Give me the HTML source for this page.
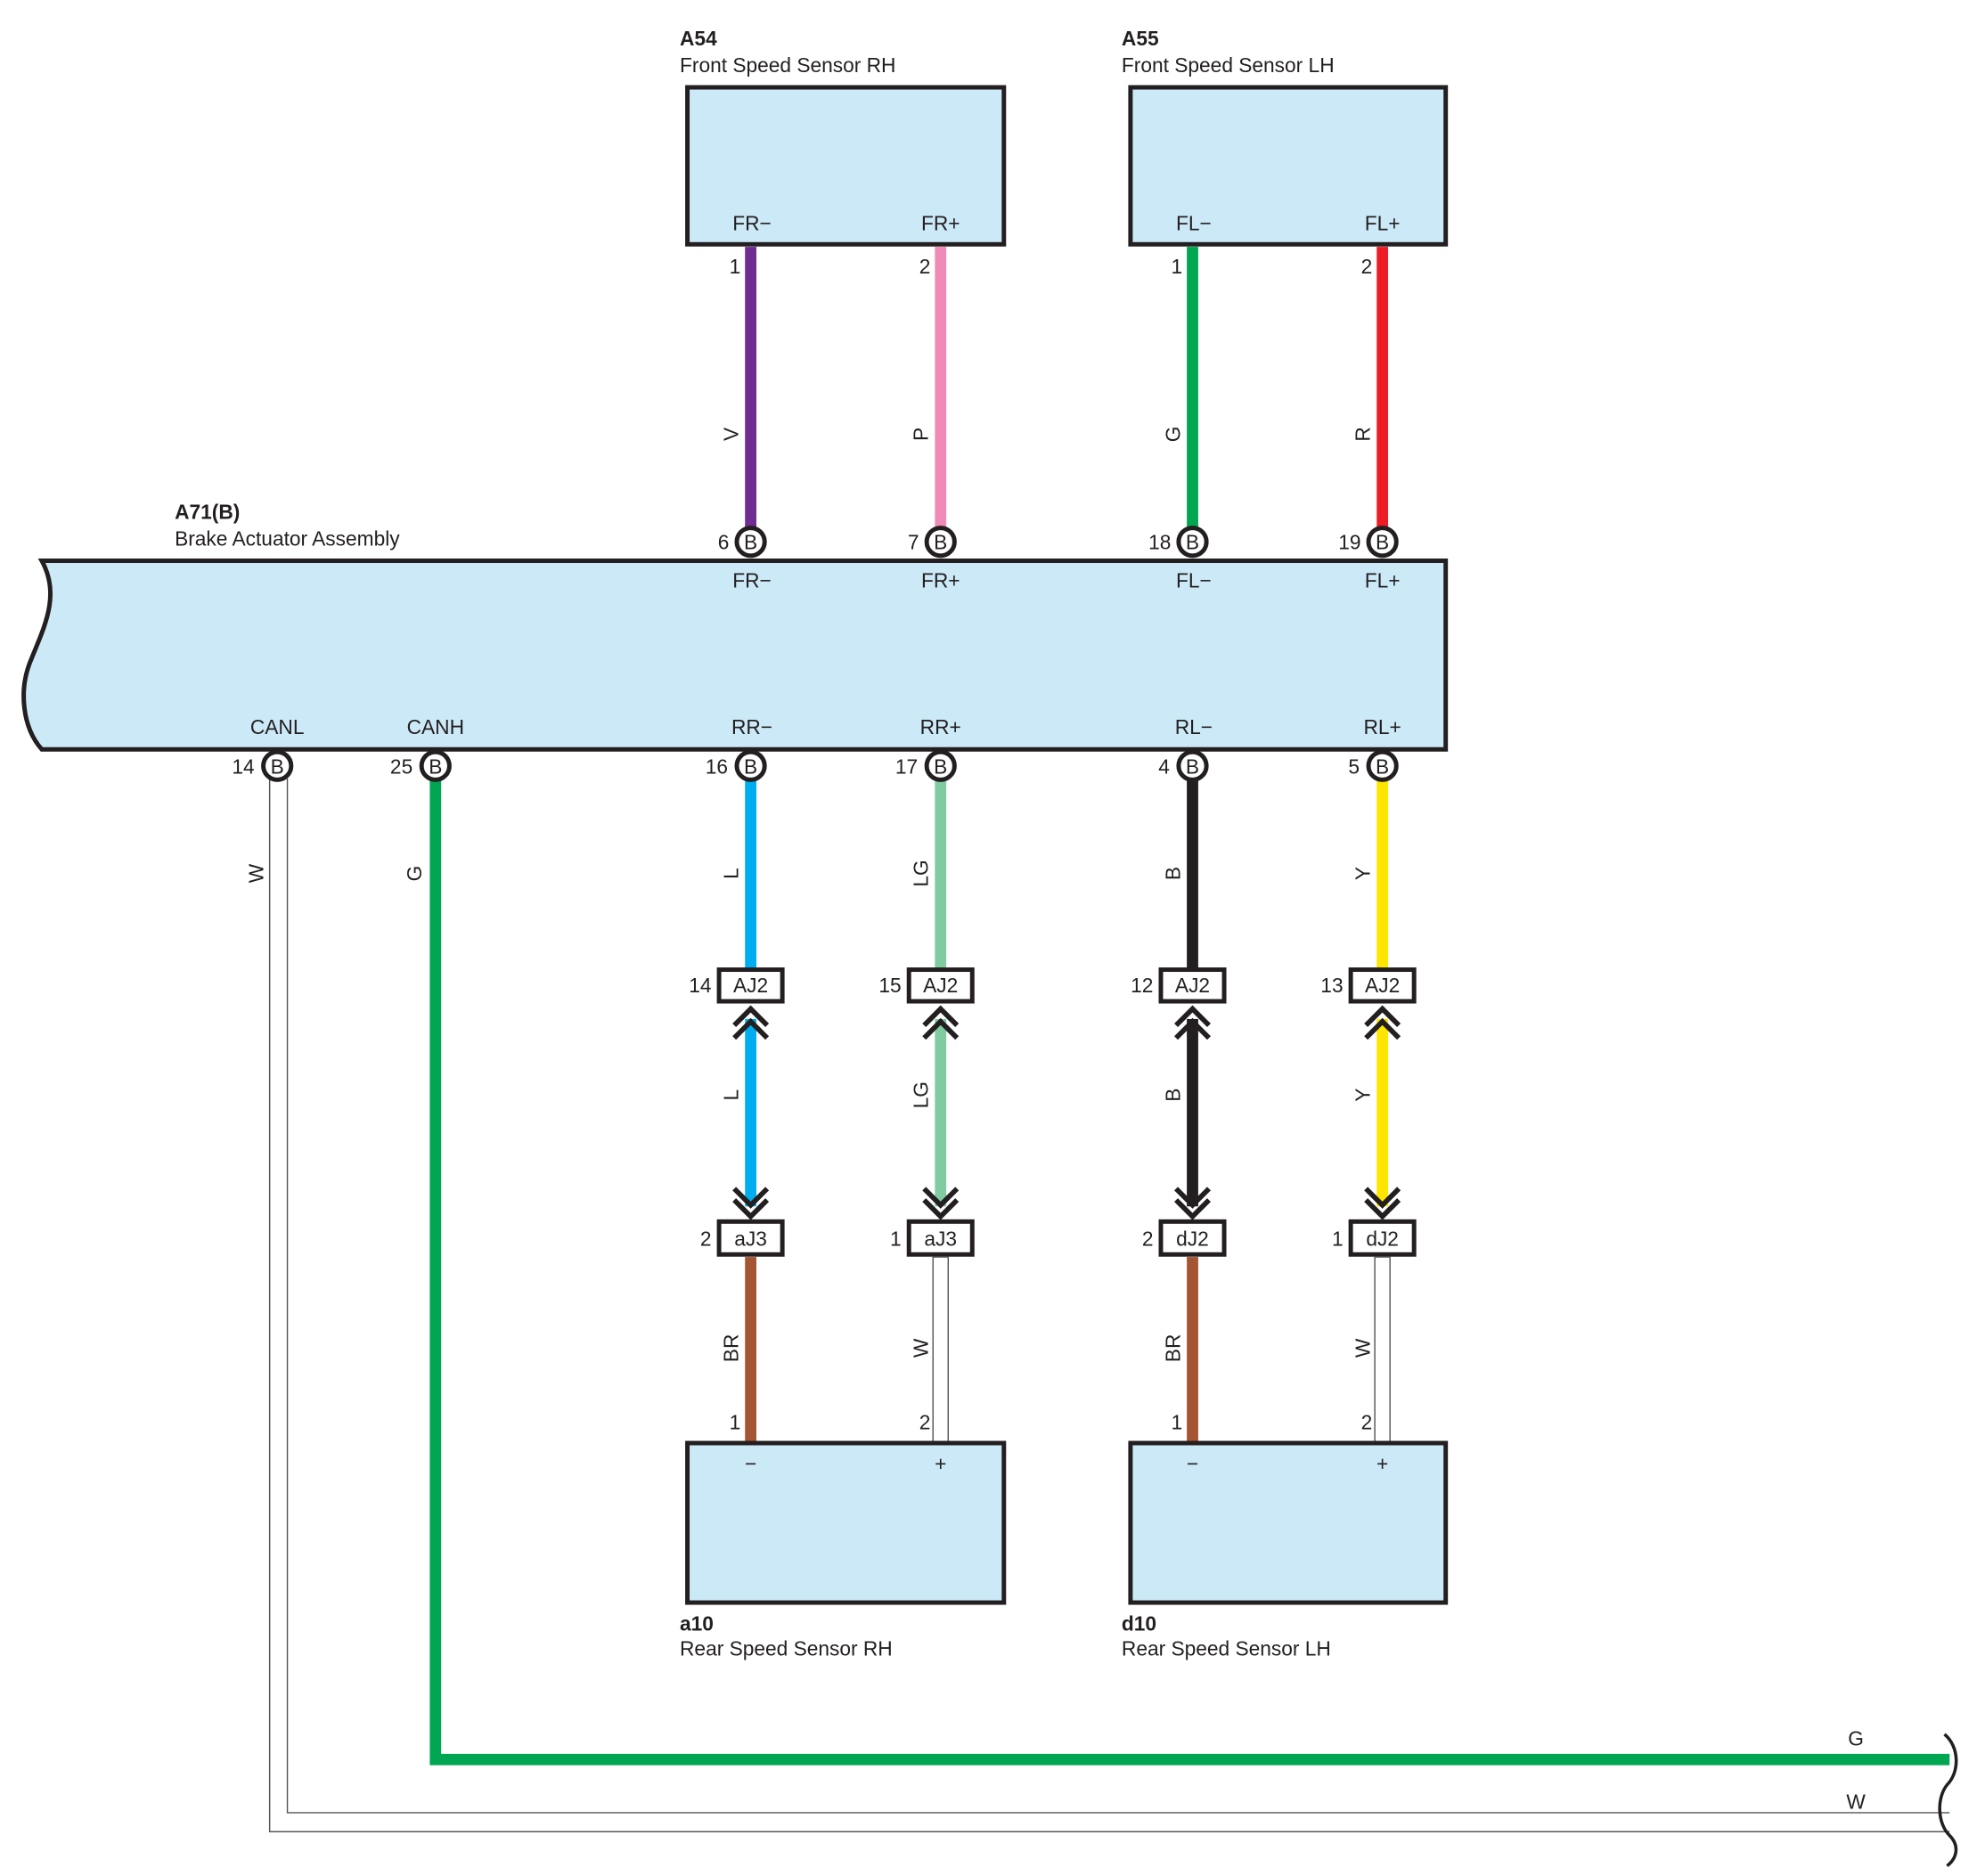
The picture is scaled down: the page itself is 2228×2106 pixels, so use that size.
<!DOCTYPE html>
<html><head><meta charset="utf-8"><style>
html,body{margin:0;padding:0;background:#fff}
svg{display:block}
text{font-family:"Liberation Sans",sans-serif;font-size:16px;fill:#231f20}
.b{font-weight:bold}
.m{text-anchor:middle}
.e{text-anchor:end}
.box{fill:#cce9f8;stroke:#231f20;stroke-width:3.5}
.cb{fill:#fff;stroke:#231f20;stroke-width:3.5}
.ch{fill:none;stroke:#231f20;stroke-width:4}
</style></head><body>
<svg width="2228" height="2106" viewBox="0 0 1568 1482" preserveAspectRatio="none" xmlns="http://www.w3.org/2000/svg">
<rect class="box" x="543" y="69" width="250" height="124"/>
<rect class="box" x="893" y="69" width="249" height="124"/>
<text class="b" x="537" y="36">A54</text>
<text x="537" y="57">Front Speed Sensor RH</text>
<text class="b" x="886" y="36">A55</text>
<text x="886" y="57">Front Speed Sensor LH</text>
<text class="m" x="594" y="182">FR−</text>
<text class="m" x="743" y="182">FR+</text>
<text class="m" x="943" y="182">FL−</text>
<text class="m" x="1092" y="182">FL+</text>
<rect x="588.5" y="195" width="9" height="222" fill="#6f2c91"/>
<rect x="738.5" y="195" width="9" height="222" fill="#f08bb8"/>
<rect x="937.5" y="195" width="9" height="222" fill="#00a651"/>
<rect x="1087.5" y="195" width="9" height="222" fill="#ed1c24"/>
<text class="e" x="585" y="216">1</text>
<text class="e" x="735" y="216">2</text>
<text class="e" x="934" y="216">1</text>
<text class="e" x="1084" y="216">2</text>
<text class="m" transform="translate(583,343) rotate(-90)">V</text>
<text class="m" transform="translate(733,343) rotate(-90)">P</text>
<text class="m" transform="translate(932,343) rotate(-90)">G</text>
<text class="m" transform="translate(1082,343) rotate(-90)">R</text>
<path class="box" d="M33,443 L1142,443 L1142,592 L33,592 C18,575 14,545 25,520 C35,495 48,470 33,443 Z"/>
<text class="b" x="138" y="410">A71(B)</text>
<text x="138" y="431">Brake Actuator Assembly</text>
<text class="m" x="594" y="464">FR−</text>
<text class="m" x="743" y="464">FR+</text>
<text class="m" x="943" y="464">FL−</text>
<text class="m" x="1092" y="464">FL+</text>
<text class="m" x="219" y="580">CANL</text>
<text class="m" x="344" y="580">CANH</text>
<text class="m" x="594" y="580">RR−</text>
<text class="m" x="743" y="580">RR+</text>
<text class="m" x="943" y="580">RL−</text>
<text class="m" x="1092" y="580">RL+</text>
<g>
<circle class="cb" cx="593" cy="428" r="11"/><text class="m" x="593" y="434">B</text><text class="e" x="576" y="434">6</text>
<circle class="cb" cx="743" cy="428" r="11"/><text class="m" x="743" y="434">B</text><text class="e" x="726" y="434">7</text>
<circle class="cb" cx="942" cy="428" r="11"/><text class="m" x="942" y="434">B</text><text class="e" x="925" y="434">18</text>
<circle class="cb" cx="1092" cy="428" r="11"/><text class="m" x="1092" y="434">B</text><text class="e" x="1075" y="434">19</text>
</g>
<path d="M213,615 L213,1447 L1540,1447" fill="none" stroke="#555" stroke-width="1"/>
<path d="M227,615 L227,1432 L1540,1432" fill="none" stroke="#555" stroke-width="1"/>
<path d="M344,615 L344,1390 L1540,1390" fill="none" stroke="#00a651" stroke-width="9"/>
<path d="M1536,1370 C1548,1380 1548,1400 1538,1410 C1530,1420 1530,1440 1540,1450 C1548,1458 1546,1468 1538,1474" fill="none" stroke="#231f20" stroke-width="2.5"/>
<text class="m" transform="translate(208,690) rotate(-90)">W</text>
<text class="m" transform="translate(333,690) rotate(-90)">G</text>
<text class="m" x="1466" y="1379">G</text>
<text class="m" x="1466" y="1429">W</text>
<rect x="588.5" y="615" width="9" height="152" fill="#00aeef"/>
<rect x="738.5" y="615" width="9" height="152" fill="#80cba0"/>
<rect x="937.5" y="615" width="9" height="152" fill="#231f20"/>
<rect x="1087.5" y="615" width="9" height="152" fill="#ffe600"/>
<text class="m" transform="translate(583,690) rotate(-90)">L</text>
<text class="m" transform="translate(733,690) rotate(-90)">LG</text>
<text class="m" transform="translate(932,690) rotate(-90)">B</text>
<text class="m" transform="translate(1082,690) rotate(-90)">Y</text>
<rect x="588.5" y="805" width="9" height="148" fill="#00aeef"/>
<rect x="738.5" y="805" width="9" height="148" fill="#80cba0"/>
<rect x="937.5" y="805" width="9" height="148" fill="#231f20"/>
<rect x="1087.5" y="805" width="9" height="148" fill="#ffe600"/>
<text class="m" transform="translate(583,865) rotate(-90)">L</text>
<text class="m" transform="translate(733,865) rotate(-90)">LG</text>
<text class="m" transform="translate(932,865) rotate(-90)">B</text>
<text class="m" transform="translate(1082,865) rotate(-90)">Y</text>
<g class="ch">
<path d="M580,810 L593,797 L606,810 M580,820 L593,807 L606,820 M580,939 L593,952 L606,939 M580,948 L593,961 L606,948"/>
<path d="M730,810 L743,797 L756,810 M730,820 L743,807 L756,820 M730,939 L743,952 L756,939 M730,948 L743,961 L756,948"/>
<path d="M929,810 L942,797 L955,810 M929,820 L942,807 L955,820 M929,939 L942,952 L955,939 M929,948 L942,961 L955,948"/>
<path d="M1079,810 L1092,797 L1105,810 M1079,820 L1092,807 L1105,820 M1079,939 L1092,952 L1105,939 M1079,948 L1092,961 L1105,948"/>
</g>
<g>
<circle class="cb" cx="219" cy="605" r="11"/><text class="m" x="219" y="611">B</text><text class="e" x="201" y="611">14</text>
<circle class="cb" cx="344" cy="605" r="11"/><text class="m" x="344" y="611">B</text><text class="e" x="326" y="611">25</text>
<circle class="cb" cx="593" cy="605" r="11"/><text class="m" x="593" y="611">B</text><text class="e" x="575" y="611">16</text>
<circle class="cb" cx="743" cy="605" r="11"/><text class="m" x="743" y="611">B</text><text class="e" x="725" y="611">17</text>
<circle class="cb" cx="942" cy="605" r="11"/><text class="m" x="942" y="611">B</text><text class="e" x="924" y="611">4</text>
<circle class="cb" cx="1092" cy="605" r="11"/><text class="m" x="1092" y="611">B</text><text class="e" x="1074" y="611">5</text>
</g>
<rect class="cb" x="568" y="766" width="50" height="25"/><text class="m" x="593" y="784">AJ2</text><text class="e" x="562" y="784">14</text>
<rect class="cb" x="718" y="766" width="50" height="25"/><text class="m" x="743" y="784">AJ2</text><text class="e" x="712" y="784">15</text>
<rect class="cb" x="917" y="766" width="50" height="25"/><text class="m" x="942" y="784">AJ2</text><text class="e" x="911" y="784">12</text>
<rect class="cb" x="1067" y="766" width="50" height="25"/><text class="m" x="1092" y="784">AJ2</text><text class="e" x="1061" y="784">13</text>
<rect class="cb" x="568" y="965" width="50" height="26"/><text class="m" x="593" y="984">aJ3</text><text class="e" x="562" y="984">2</text>
<rect class="cb" x="718" y="965" width="50" height="26"/><text class="m" x="743" y="984">aJ3</text><text class="e" x="712" y="984">1</text>
<rect class="cb" x="917" y="965" width="50" height="26"/><text class="m" x="942" y="984">dJ2</text><text class="e" x="911" y="984">2</text>
<rect class="cb" x="1067" y="965" width="50" height="26"/><text class="m" x="1092" y="984">dJ2</text><text class="e" x="1061" y="984">1</text>
<rect x="588.5" y="993" width="9" height="146" fill="#a65534"/>
<rect x="937.5" y="993" width="9" height="146" fill="#a65534"/>
<rect x="737" y="993" width="12" height="146" fill="#fff" stroke="#555" stroke-width="1"/>
<rect x="1086" y="993" width="12" height="146" fill="#fff" stroke="#555" stroke-width="1"/>
<text class="m" transform="translate(583,1065) rotate(-90)">BR</text>
<text class="m" transform="translate(733,1065) rotate(-90)">W</text>
<text class="m" transform="translate(932,1065) rotate(-90)">BR</text>
<text class="m" transform="translate(1082,1065) rotate(-90)">W</text>
<text class="e" x="585" y="1129">1</text>
<text class="e" x="735" y="1129">2</text>
<text class="e" x="934" y="1129">1</text>
<text class="e" x="1084" y="1129">2</text>
<rect class="box" x="543" y="1140" width="250" height="126"/>
<rect class="box" x="893" y="1140" width="249" height="126"/>
<text class="m" x="593" y="1162">−</text>
<text class="m" x="743" y="1162">+</text>
<text class="m" x="942" y="1162">−</text>
<text class="m" x="1092" y="1162">+</text>
<text class="b" x="537" y="1288">a10</text>
<text x="537" y="1308">Rear Speed Sensor RH</text>
<text class="b" x="886" y="1288">d10</text>
<text x="886" y="1308">Rear Speed Sensor LH</text>
</svg>
</body></html>
